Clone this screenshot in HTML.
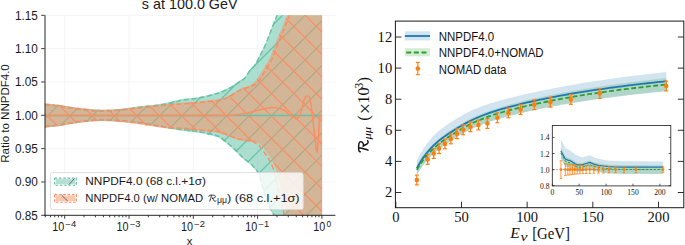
<!DOCTYPE html><html><head><meta charset="utf-8"><style>html,body{margin:0;padding:0;background:#fff;width:685px;height:245px;overflow:hidden}svg{display:block}</style></head><body><svg width="685" height="245" viewBox="0 0 685 245">
<defs>
<clipPath id="axL"><rect x="44.7" y="15.3" width="290.7" height="200.0"/></clipPath>
<clipPath id="clipG"><path d="M44.70,103.30 C47.25,103.60 54.12,104.30 60.00,105.10 C65.88,105.90 73.33,107.33 80.00,108.10 C86.67,108.87 93.33,109.57 100.00,109.70 C106.67,109.83 113.33,109.50 120.00,108.90 C126.67,108.30 134.72,106.77 140.00,106.10 C145.28,105.43 147.80,105.38 151.70,104.90 C155.60,104.42 159.52,103.88 163.40,103.20 C167.28,102.52 171.70,101.55 175.00,100.80 C178.30,100.05 180.27,99.18 183.20,98.70 C186.13,98.22 189.10,98.37 192.60,97.90 C196.10,97.43 200.32,96.77 204.20,95.90 C208.08,95.03 213.27,93.43 215.90,92.70 C218.53,91.97 217.65,92.45 220.00,91.50 C222.35,90.55 226.67,88.83 230.00,87.00 C233.33,85.17 237.50,82.22 240.00,80.50 C242.50,78.78 243.33,78.55 245.00,76.70 C246.67,74.85 248.33,71.52 250.00,69.40 C251.67,67.28 253.33,66.48 255.00,64.00 C256.67,61.52 258.33,57.75 260.00,54.50 C261.67,51.25 263.33,48.25 265.00,44.50 C266.67,40.75 268.08,36.87 270.00,32.00 C271.92,27.13 275.00,19.30 276.50,15.30 C278.00,11.30 277.92,10.22 279.00,8.00 C280.08,5.78 282.33,3.00 283.00,2.00 L321.9,-3.00 L321.9,237.00 L279.00,232.00 L279.00,232.00 C278.50,230.67 276.92,226.78 276.00,224.00 C275.08,221.22 274.50,217.80 273.50,215.30 C272.50,212.80 271.25,211.72 270.00,209.00 C268.75,206.28 267.33,202.83 266.00,199.00 C264.67,195.17 263.23,190.08 262.00,186.00 C260.77,181.92 259.97,177.47 258.60,174.50 C257.23,171.53 255.32,169.98 253.80,168.20 C252.28,166.42 251.18,165.25 249.50,163.80 C247.82,162.35 245.62,161.18 243.70,159.50 C241.78,157.82 240.45,156.03 238.00,153.70 C235.55,151.37 232.00,148.05 229.00,145.50 C226.00,142.95 222.18,139.87 220.00,138.40 C217.82,136.93 218.53,137.47 215.90,136.70 C213.27,135.93 208.08,134.58 204.20,133.80 C200.32,133.02 197.47,132.68 192.60,132.00 C187.73,131.32 183.77,131.07 175.00,129.70 C166.23,128.33 149.17,125.10 140.00,123.80 C130.83,122.50 126.67,122.35 120.00,121.90 C113.33,121.45 106.67,120.95 100.00,121.10 C93.33,121.25 86.67,121.98 80.00,122.80 C73.33,123.62 65.88,125.17 60.00,126.00 C54.12,126.83 47.25,127.50 44.70,127.80 Z"/></clipPath>
<clipPath id="clipO"><path d="M44.70,103.30 C47.25,103.60 54.12,104.30 60.00,105.10 C65.88,105.90 73.33,107.33 80.00,108.10 C86.67,108.87 93.33,109.57 100.00,109.70 C106.67,109.83 113.33,109.40 120.00,108.90 C126.67,108.40 132.77,107.45 140.00,106.70 C147.23,105.95 157.57,104.98 163.40,104.40 C169.23,103.82 170.13,103.60 175.00,103.20 C179.87,102.80 187.73,102.40 192.60,102.00 C197.47,101.60 199.63,101.28 204.20,100.80 C208.77,100.32 215.70,100.07 220.00,99.10 C224.30,98.13 226.67,96.68 230.00,95.00 C233.33,93.32 236.67,90.62 240.00,89.00 C243.33,87.38 247.50,86.53 250.00,85.30 C252.50,84.07 253.33,83.43 255.00,81.60 C256.67,79.77 258.33,76.82 260.00,74.30 C261.67,71.78 263.33,69.30 265.00,66.50 C266.67,63.70 268.67,60.25 270.00,57.50 C271.33,54.75 271.88,52.92 273.00,50.00 C274.12,47.08 275.37,43.33 276.70,40.00 C278.03,36.67 279.62,33.33 281.00,30.00 C282.38,26.67 284.00,22.45 285.00,20.00 C286.00,17.55 286.33,17.30 287.00,15.30 C287.67,13.30 288.33,10.22 289.00,8.00 C289.67,5.78 290.67,3.00 291.00,2.00 L321.9,-3.00 L321.9,237.00 L291.00,232.00 L291.00,232.00 C290.67,230.67 289.67,226.78 289.00,224.00 C288.33,221.22 288.17,220.13 287.00,215.30 C285.83,210.47 283.57,201.72 282.00,195.00 C280.43,188.28 278.65,179.40 277.60,175.00 C276.55,170.60 276.32,170.43 275.70,168.60 C275.08,166.77 274.52,165.38 273.90,164.00 C273.28,162.62 272.77,161.68 272.00,160.30 C271.23,158.92 270.22,157.08 269.30,155.70 C268.38,154.32 267.42,153.22 266.50,152.00 C265.58,150.78 264.72,149.62 263.80,148.40 C262.88,147.18 262.08,145.62 261.00,144.70 C259.92,143.78 258.52,143.32 257.30,142.90 C256.08,142.48 255.17,142.38 253.70,142.20 C252.23,142.02 251.40,142.27 248.50,141.80 C245.60,141.33 241.05,140.83 236.30,139.40 C231.55,137.97 224.38,134.43 220.00,133.20 C215.62,131.97 213.60,132.40 210.00,132.00 C206.40,131.60 202.28,131.18 198.40,130.80 C194.52,130.42 190.60,129.98 186.70,129.70 C182.80,129.42 178.88,129.40 175.00,129.10 C171.12,128.80 167.28,128.38 163.40,127.90 C159.52,127.42 155.60,126.78 151.70,126.20 C147.80,125.62 145.28,125.12 140.00,124.40 C134.72,123.68 126.67,122.45 120.00,121.90 C113.33,121.35 106.67,120.95 100.00,121.10 C93.33,121.25 86.67,121.98 80.00,122.80 C73.33,123.62 65.88,125.17 60.00,126.00 C54.12,126.83 47.25,127.50 44.70,127.80 Z"/></clipPath>
</defs>
<rect width="685" height="245" fill="#ffffff"/>
<g stroke="#f1f1f1" stroke-width="0.8"><line x1="64.70" y1="15.3" x2="64.70" y2="215.3"/><line x1="129.00" y1="15.3" x2="129.00" y2="215.3"/><line x1="193.30" y1="15.3" x2="193.30" y2="215.3"/><line x1="257.60" y1="15.3" x2="257.60" y2="215.3"/><line x1="321.90" y1="15.3" x2="321.90" y2="215.3"/><line x1="44.7" y1="15.30" x2="335.4" y2="15.30"/><line x1="44.7" y1="48.63" x2="335.4" y2="48.63"/><line x1="44.7" y1="81.97" x2="335.4" y2="81.97"/><line x1="44.7" y1="115.30" x2="335.4" y2="115.30"/><line x1="44.7" y1="148.63" x2="335.4" y2="148.63"/><line x1="44.7" y1="181.97" x2="335.4" y2="181.97"/></g>
<g clip-path="url(#axL)">
<path d="M44.70,103.30 C47.25,103.60 54.12,104.30 60.00,105.10 C65.88,105.90 73.33,107.33 80.00,108.10 C86.67,108.87 93.33,109.57 100.00,109.70 C106.67,109.83 113.33,109.50 120.00,108.90 C126.67,108.30 134.72,106.77 140.00,106.10 C145.28,105.43 147.80,105.38 151.70,104.90 C155.60,104.42 159.52,103.88 163.40,103.20 C167.28,102.52 171.70,101.55 175.00,100.80 C178.30,100.05 180.27,99.18 183.20,98.70 C186.13,98.22 189.10,98.37 192.60,97.90 C196.10,97.43 200.32,96.77 204.20,95.90 C208.08,95.03 213.27,93.43 215.90,92.70 C218.53,91.97 217.65,92.45 220.00,91.50 C222.35,90.55 226.67,88.83 230.00,87.00 C233.33,85.17 237.50,82.22 240.00,80.50 C242.50,78.78 243.33,78.55 245.00,76.70 C246.67,74.85 248.33,71.52 250.00,69.40 C251.67,67.28 253.33,66.48 255.00,64.00 C256.67,61.52 258.33,57.75 260.00,54.50 C261.67,51.25 263.33,48.25 265.00,44.50 C266.67,40.75 268.08,36.87 270.00,32.00 C271.92,27.13 275.00,19.30 276.50,15.30 C278.00,11.30 277.92,10.22 279.00,8.00 C280.08,5.78 282.33,3.00 283.00,2.00 L321.9,-3.00 L321.9,237.00 L279.00,232.00 L279.00,232.00 C278.50,230.67 276.92,226.78 276.00,224.00 C275.08,221.22 274.50,217.80 273.50,215.30 C272.50,212.80 271.25,211.72 270.00,209.00 C268.75,206.28 267.33,202.83 266.00,199.00 C264.67,195.17 263.23,190.08 262.00,186.00 C260.77,181.92 259.97,177.47 258.60,174.50 C257.23,171.53 255.32,169.98 253.80,168.20 C252.28,166.42 251.18,165.25 249.50,163.80 C247.82,162.35 245.62,161.18 243.70,159.50 C241.78,157.82 240.45,156.03 238.00,153.70 C235.55,151.37 232.00,148.05 229.00,145.50 C226.00,142.95 222.18,139.87 220.00,138.40 C217.82,136.93 218.53,137.47 215.90,136.70 C213.27,135.93 208.08,134.58 204.20,133.80 C200.32,133.02 197.47,132.68 192.60,132.00 C187.73,131.32 183.77,131.07 175.00,129.70 C166.23,128.33 149.17,125.10 140.00,123.80 C130.83,122.50 126.67,122.35 120.00,121.90 C113.33,121.45 106.67,120.95 100.00,121.10 C93.33,121.25 86.67,121.98 80.00,122.80 C73.33,123.62 65.88,125.17 60.00,126.00 C54.12,126.83 47.25,127.50 44.70,127.80 Z" fill="#66c2a5" fill-opacity="0.55"/>
<g clip-path="url(#clipG)" stroke="#66c2a5" stroke-width="1.2"><line x1="-83.00" y1="0" x2="-333.00" y2="250"/><line x1="-60.60" y1="0" x2="-310.60" y2="250"/><line x1="-38.20" y1="0" x2="-288.20" y2="250"/><line x1="-15.80" y1="0" x2="-265.80" y2="250"/><line x1="6.60" y1="0" x2="-243.40" y2="250"/><line x1="29.00" y1="0" x2="-221.00" y2="250"/><line x1="51.40" y1="0" x2="-198.60" y2="250"/><line x1="73.80" y1="0" x2="-176.20" y2="250"/><line x1="96.20" y1="0" x2="-153.80" y2="250"/><line x1="118.60" y1="0" x2="-131.40" y2="250"/><line x1="141.00" y1="0" x2="-109.00" y2="250"/><line x1="163.40" y1="0" x2="-86.60" y2="250"/><line x1="185.80" y1="0" x2="-64.20" y2="250"/><line x1="208.20" y1="0" x2="-41.80" y2="250"/><line x1="230.60" y1="0" x2="-19.40" y2="250"/><line x1="253.00" y1="0" x2="3.00" y2="250"/><line x1="275.40" y1="0" x2="25.40" y2="250"/><line x1="297.80" y1="0" x2="47.80" y2="250"/><line x1="320.20" y1="0" x2="70.20" y2="250"/><line x1="342.60" y1="0" x2="92.60" y2="250"/><line x1="365.00" y1="0" x2="115.00" y2="250"/><line x1="387.40" y1="0" x2="137.40" y2="250"/><line x1="409.80" y1="0" x2="159.80" y2="250"/><line x1="432.20" y1="0" x2="182.20" y2="250"/><line x1="454.60" y1="0" x2="204.60" y2="250"/><line x1="477.00" y1="0" x2="227.00" y2="250"/><line x1="499.40" y1="0" x2="249.40" y2="250"/><line x1="521.80" y1="0" x2="271.80" y2="250"/><line x1="544.20" y1="0" x2="294.20" y2="250"/><line x1="566.60" y1="0" x2="316.60" y2="250"/><line x1="589.00" y1="0" x2="339.00" y2="250"/><line x1="611.40" y1="0" x2="361.40" y2="250"/><line x1="633.80" y1="0" x2="383.80" y2="250"/><line x1="656.20" y1="0" x2="406.20" y2="250"/><line x1="678.60" y1="0" x2="428.60" y2="250"/><line x1="701.00" y1="0" x2="451.00" y2="250"/><line x1="723.40" y1="0" x2="473.40" y2="250"/><line x1="745.80" y1="0" x2="495.80" y2="250"/><line x1="768.20" y1="0" x2="518.20" y2="250"/><line x1="790.60" y1="0" x2="540.60" y2="250"/><line x1="813.00" y1="0" x2="563.00" y2="250"/><line x1="835.40" y1="0" x2="585.40" y2="250"/><line x1="857.80" y1="0" x2="607.80" y2="250"/><line x1="880.20" y1="0" x2="630.20" y2="250"/><line x1="902.60" y1="0" x2="652.60" y2="250"/><line x1="925.00" y1="0" x2="675.00" y2="250"/><line x1="947.40" y1="0" x2="697.40" y2="250"/><line x1="969.80" y1="0" x2="719.80" y2="250"/><line x1="992.20" y1="0" x2="742.20" y2="250"/><line x1="1014.60" y1="0" x2="764.60" y2="250"/></g>
<path d="M44.70,103.30 C47.25,103.60 54.12,104.30 60.00,105.10 C65.88,105.90 73.33,107.33 80.00,108.10 C86.67,108.87 93.33,109.57 100.00,109.70 C106.67,109.83 113.33,109.40 120.00,108.90 C126.67,108.40 132.77,107.45 140.00,106.70 C147.23,105.95 157.57,104.98 163.40,104.40 C169.23,103.82 170.13,103.60 175.00,103.20 C179.87,102.80 187.73,102.40 192.60,102.00 C197.47,101.60 199.63,101.28 204.20,100.80 C208.77,100.32 215.70,100.07 220.00,99.10 C224.30,98.13 226.67,96.68 230.00,95.00 C233.33,93.32 236.67,90.62 240.00,89.00 C243.33,87.38 247.50,86.53 250.00,85.30 C252.50,84.07 253.33,83.43 255.00,81.60 C256.67,79.77 258.33,76.82 260.00,74.30 C261.67,71.78 263.33,69.30 265.00,66.50 C266.67,63.70 268.67,60.25 270.00,57.50 C271.33,54.75 271.88,52.92 273.00,50.00 C274.12,47.08 275.37,43.33 276.70,40.00 C278.03,36.67 279.62,33.33 281.00,30.00 C282.38,26.67 284.00,22.45 285.00,20.00 C286.00,17.55 286.33,17.30 287.00,15.30 C287.67,13.30 288.33,10.22 289.00,8.00 C289.67,5.78 290.67,3.00 291.00,2.00 L321.9,-3.00 L321.9,237.00 L291.00,232.00 L291.00,232.00 C290.67,230.67 289.67,226.78 289.00,224.00 C288.33,221.22 288.17,220.13 287.00,215.30 C285.83,210.47 283.57,201.72 282.00,195.00 C280.43,188.28 278.65,179.40 277.60,175.00 C276.55,170.60 276.32,170.43 275.70,168.60 C275.08,166.77 274.52,165.38 273.90,164.00 C273.28,162.62 272.77,161.68 272.00,160.30 C271.23,158.92 270.22,157.08 269.30,155.70 C268.38,154.32 267.42,153.22 266.50,152.00 C265.58,150.78 264.72,149.62 263.80,148.40 C262.88,147.18 262.08,145.62 261.00,144.70 C259.92,143.78 258.52,143.32 257.30,142.90 C256.08,142.48 255.17,142.38 253.70,142.20 C252.23,142.02 251.40,142.27 248.50,141.80 C245.60,141.33 241.05,140.83 236.30,139.40 C231.55,137.97 224.38,134.43 220.00,133.20 C215.62,131.97 213.60,132.40 210.00,132.00 C206.40,131.60 202.28,131.18 198.40,130.80 C194.52,130.42 190.60,129.98 186.70,129.70 C182.80,129.42 178.88,129.40 175.00,129.10 C171.12,128.80 167.28,128.38 163.40,127.90 C159.52,127.42 155.60,126.78 151.70,126.20 C147.80,125.62 145.28,125.12 140.00,124.40 C134.72,123.68 126.67,122.45 120.00,121.90 C113.33,121.35 106.67,120.95 100.00,121.10 C93.33,121.25 86.67,121.98 80.00,122.80 C73.33,123.62 65.88,125.17 60.00,126.00 C54.12,126.83 47.25,127.50 44.70,127.80 Z" fill="#fc8d62" fill-opacity="0.5"/>
<g clip-path="url(#clipO)" stroke="#fc8d62" stroke-width="1.2"><line x1="-225.30" y1="0" x2="24.70" y2="250"/><line x1="-202.90" y1="0" x2="47.10" y2="250"/><line x1="-180.50" y1="0" x2="69.50" y2="250"/><line x1="-158.10" y1="0" x2="91.90" y2="250"/><line x1="-135.70" y1="0" x2="114.30" y2="250"/><line x1="-113.30" y1="0" x2="136.70" y2="250"/><line x1="-90.90" y1="0" x2="159.10" y2="250"/><line x1="-68.50" y1="0" x2="181.50" y2="250"/><line x1="-46.10" y1="0" x2="203.90" y2="250"/><line x1="-23.70" y1="0" x2="226.30" y2="250"/><line x1="-1.30" y1="0" x2="248.70" y2="250"/><line x1="21.10" y1="0" x2="271.10" y2="250"/><line x1="43.50" y1="0" x2="293.50" y2="250"/><line x1="65.90" y1="0" x2="315.90" y2="250"/><line x1="88.30" y1="0" x2="338.30" y2="250"/><line x1="110.70" y1="0" x2="360.70" y2="250"/><line x1="133.10" y1="0" x2="383.10" y2="250"/><line x1="155.50" y1="0" x2="405.50" y2="250"/><line x1="177.90" y1="0" x2="427.90" y2="250"/><line x1="200.30" y1="0" x2="450.30" y2="250"/><line x1="222.70" y1="0" x2="472.70" y2="250"/><line x1="245.10" y1="0" x2="495.10" y2="250"/><line x1="267.50" y1="0" x2="517.50" y2="250"/><line x1="289.90" y1="0" x2="539.90" y2="250"/><line x1="312.30" y1="0" x2="562.30" y2="250"/><line x1="334.70" y1="0" x2="584.70" y2="250"/><line x1="357.10" y1="0" x2="607.10" y2="250"/><line x1="379.50" y1="0" x2="629.50" y2="250"/><line x1="401.90" y1="0" x2="651.90" y2="250"/><line x1="424.30" y1="0" x2="674.30" y2="250"/><line x1="446.70" y1="0" x2="696.70" y2="250"/><line x1="469.10" y1="0" x2="719.10" y2="250"/><line x1="491.50" y1="0" x2="741.50" y2="250"/><line x1="513.90" y1="0" x2="763.90" y2="250"/><line x1="536.30" y1="0" x2="786.30" y2="250"/><line x1="558.70" y1="0" x2="808.70" y2="250"/><line x1="581.10" y1="0" x2="831.10" y2="250"/><line x1="603.50" y1="0" x2="853.50" y2="250"/><line x1="625.90" y1="0" x2="875.90" y2="250"/><line x1="648.30" y1="0" x2="898.30" y2="250"/><line x1="670.70" y1="0" x2="920.70" y2="250"/><line x1="693.10" y1="0" x2="943.10" y2="250"/><line x1="715.50" y1="0" x2="965.50" y2="250"/><line x1="737.90" y1="0" x2="987.90" y2="250"/><line x1="760.30" y1="0" x2="1010.30" y2="250"/><line x1="782.70" y1="0" x2="1032.70" y2="250"/><line x1="805.10" y1="0" x2="1055.10" y2="250"/><line x1="827.50" y1="0" x2="1077.50" y2="250"/><line x1="849.90" y1="0" x2="1099.90" y2="250"/><line x1="872.30" y1="0" x2="1122.30" y2="250"/></g>
<path d="M44.70,104.50 C47.25,104.80 54.12,105.50 60.00,106.30 C65.88,107.10 73.33,108.53 80.00,109.30 C86.67,110.07 93.33,110.77 100.00,110.90 C106.67,111.03 113.33,110.70 120.00,110.10 C126.67,109.50 134.72,107.97 140.00,107.30 C145.28,106.63 147.80,106.58 151.70,106.10 C155.60,105.62 159.52,105.08 163.40,104.40 C167.28,103.72 171.70,102.75 175.00,102.00 C178.30,101.25 180.27,100.38 183.20,99.90 C186.13,99.42 189.10,99.57 192.60,99.10 C196.10,98.63 200.32,97.97 204.20,97.10 C208.08,96.23 213.27,94.63 215.90,93.90 C218.53,93.17 217.65,93.65 220.00,92.70 C222.35,91.75 226.67,90.03 230.00,88.20 C233.33,86.37 237.50,83.42 240.00,81.70 C242.50,79.98 243.33,79.75 245.00,77.90 C246.67,76.05 248.33,72.72 250.00,70.60 C251.67,68.48 253.33,67.68 255.00,65.20 C256.67,62.72 258.33,58.95 260.00,55.70 C261.67,52.45 263.33,49.45 265.00,45.70 C266.67,41.95 268.08,38.07 270.00,33.20 C271.92,28.33 275.00,20.50 276.50,16.50 C278.00,12.50 277.92,11.42 279.00,9.20 C280.08,6.98 282.33,4.20 283.00,3.20" fill="none" stroke="#66c2a5" stroke-width="1.5" stroke-dasharray="5.2 2.6"/>
<path d="M44.70,126.60 C47.25,126.30 54.12,125.63 60.00,124.80 C65.88,123.97 73.33,122.42 80.00,121.60 C86.67,120.78 93.33,120.05 100.00,119.90 C106.67,119.75 113.33,120.25 120.00,120.70 C126.67,121.15 130.83,121.30 140.00,122.60 C149.17,123.90 166.23,127.13 175.00,128.50 C183.77,129.87 187.73,130.12 192.60,130.80 C197.47,131.48 200.32,131.82 204.20,132.60 C208.08,133.38 213.27,134.73 215.90,135.50 C218.53,136.27 217.82,135.73 220.00,137.20 C222.18,138.67 226.00,141.75 229.00,144.30 C232.00,146.85 235.55,150.17 238.00,152.50 C240.45,154.83 241.78,156.62 243.70,158.30 C245.62,159.98 247.82,161.15 249.50,162.60 C251.18,164.05 252.28,165.22 253.80,167.00 C255.32,168.78 257.23,170.33 258.60,173.30 C259.97,176.27 260.77,180.72 262.00,184.80 C263.23,188.88 264.67,193.97 266.00,197.80 C267.33,201.63 268.75,205.08 270.00,207.80 C271.25,210.52 272.50,211.60 273.50,214.10 C274.50,216.60 275.08,220.02 276.00,222.80 C276.92,225.58 278.50,229.47 279.00,230.80" fill="none" stroke="#66c2a5" stroke-width="1.5" stroke-dasharray="5.2 2.6"/>
<path d="M44.70,104.50 C47.25,104.80 54.12,105.50 60.00,106.30 C65.88,107.10 73.33,108.53 80.00,109.30 C86.67,110.07 93.33,110.77 100.00,110.90 C106.67,111.03 113.33,110.60 120.00,110.10 C126.67,109.60 132.77,108.65 140.00,107.90 C147.23,107.15 157.57,106.18 163.40,105.60 C169.23,105.02 170.13,104.80 175.00,104.40 C179.87,104.00 187.73,103.60 192.60,103.20 C197.47,102.80 199.63,102.48 204.20,102.00 C208.77,101.52 215.70,101.27 220.00,100.30 C224.30,99.33 226.67,97.88 230.00,96.20 C233.33,94.52 236.67,91.82 240.00,90.20 C243.33,88.58 247.13,87.73 250.00,86.50 C252.87,85.27 255.17,84.63 257.20,82.80 C259.23,80.97 260.53,78.02 262.20,75.50 C263.87,72.98 265.53,70.50 267.20,67.70 C268.87,64.90 270.87,61.45 272.20,58.70 C273.53,55.95 274.08,54.12 275.20,51.20 C276.32,48.28 277.57,44.53 278.90,41.20 C280.23,37.87 281.82,34.53 283.20,31.20 C284.58,27.87 286.20,23.65 287.20,21.20 C288.20,18.75 288.53,18.50 289.20,16.50 C289.87,14.50 290.53,11.42 291.20,9.20 C291.87,6.98 292.87,4.20 293.20,3.20" fill="none" stroke="#fc8d62" stroke-width="1.5" stroke-dasharray="5.2 2.6"/>
<path d="M44.70,126.60 C47.25,126.30 54.12,125.63 60.00,124.80 C65.88,123.97 73.33,122.42 80.00,121.60 C86.67,120.78 93.33,120.05 100.00,119.90 C106.67,119.75 113.33,120.15 120.00,120.70 C126.67,121.25 134.72,122.48 140.00,123.20 C145.28,123.92 147.80,124.42 151.70,125.00 C155.60,125.58 159.52,126.22 163.40,126.70 C167.28,127.18 171.12,127.60 175.00,127.90 C178.88,128.20 182.80,128.22 186.70,128.50 C190.60,128.78 194.52,129.22 198.40,129.60 C202.28,129.98 206.40,130.40 210.00,130.80 C213.60,131.20 215.62,130.77 220.00,132.00 C224.38,133.23 231.55,136.77 236.30,138.20 C241.05,139.63 245.60,140.13 248.50,140.60 C251.40,141.07 252.65,140.62 253.70,141.00 C254.75,141.38 254.00,142.28 254.80,142.90 C255.60,143.52 257.42,143.78 258.50,144.70 C259.58,145.62 260.38,147.18 261.30,148.40 C262.22,149.62 263.08,150.78 264.00,152.00 C264.92,153.22 265.88,154.32 266.80,155.70 C267.72,157.08 268.73,158.92 269.50,160.30 C270.27,161.68 270.78,162.62 271.40,164.00 C272.02,165.38 272.58,166.77 273.20,168.60 C273.82,170.43 274.05,170.60 275.10,175.00 C276.15,179.40 277.93,188.28 279.50,195.00 C281.07,201.72 283.33,210.47 284.50,215.30 C285.67,220.13 285.83,221.22 286.50,224.00 C287.17,226.78 288.17,230.67 288.50,232.00" fill="none" stroke="#fc8d62" stroke-width="1.5" stroke-dasharray="5.2 2.6"/>
<rect x="320.6" y="15.3" width="1.6" height="200.0" fill="#fc8d62" fill-opacity="0.35"/>
<line x1="44.7" y1="115.4" x2="321.9" y2="115.4" stroke="#66c2a5" stroke-width="1.5"/>
<path d="M44.70,115.50 C57.25,115.50 91.62,115.48 120.00,115.50 C148.38,115.52 197.33,115.60 215.00,115.60 C232.67,115.60 222.33,115.63 226.00,115.50 C229.67,115.37 233.32,115.23 237.00,114.80 C240.68,114.37 244.42,113.72 248.10,112.90 C251.78,112.08 255.43,110.77 259.10,109.90 C262.77,109.03 267.35,108.07 270.10,107.70 C272.85,107.33 273.75,107.48 275.60,107.70 C277.45,107.92 279.63,108.50 281.20,109.00 C282.77,109.50 283.88,109.93 285.00,110.70 C286.12,111.47 286.47,112.50 287.90,113.60 C289.33,114.70 292.18,116.45 293.60,117.30 C295.02,118.15 295.45,118.85 296.40,118.70 C297.35,118.55 298.35,118.20 299.30,116.40 C300.25,114.60 301.15,110.98 302.10,107.90 C303.05,104.82 304.03,99.90 305.00,97.90 C305.97,95.90 307.05,95.67 307.90,95.90 C308.75,96.13 309.40,96.35 310.10,99.30 C310.80,102.25 311.43,108.37 312.10,113.60 C312.77,118.83 313.47,125.23 314.10,130.70 C314.73,136.17 315.42,142.83 315.90,146.40 C316.38,149.97 316.63,152.82 317.00,152.10 C317.37,151.38 317.72,147.10 318.10,142.10 C318.48,137.10 318.97,126.38 319.30,122.10 C319.63,117.82 319.67,117.53 320.10,116.40 C320.53,115.27 321.60,115.48 321.90,115.30" fill="none" stroke="#fc8d62" stroke-width="1.5"/>
</g>
<line x1="45.0" y1="15.3" x2="45.0" y2="215.8" stroke="#262626" stroke-width="1"/>
<line x1="44.2" y1="215.3" x2="335.4" y2="215.3" stroke="#262626" stroke-width="1"/>
<g stroke="#262626" stroke-width="0.9"><line x1="41.2" y1="15.30" x2="44.7" y2="15.30"/><line x1="41.2" y1="48.63" x2="44.7" y2="48.63"/><line x1="41.2" y1="81.97" x2="44.7" y2="81.97"/><line x1="41.2" y1="115.30" x2="44.7" y2="115.30"/><line x1="41.2" y1="148.63" x2="44.7" y2="148.63"/><line x1="41.2" y1="181.97" x2="44.7" y2="181.97"/><line x1="41.2" y1="215.30" x2="44.7" y2="215.30"/><line x1="45.34" y1="215.3" x2="45.34" y2="217.3"/><line x1="50.44" y1="215.3" x2="50.44" y2="217.3"/><line x1="54.74" y1="215.3" x2="54.74" y2="217.3"/><line x1="58.47" y1="215.3" x2="58.47" y2="217.3"/><line x1="61.76" y1="215.3" x2="61.76" y2="217.3"/><line x1="64.70" y1="215.3" x2="64.70" y2="218.8"/><line x1="84.06" y1="215.3" x2="84.06" y2="217.3"/><line x1="95.38" y1="215.3" x2="95.38" y2="217.3"/><line x1="103.41" y1="215.3" x2="103.41" y2="217.3"/><line x1="109.64" y1="215.3" x2="109.64" y2="217.3"/><line x1="114.74" y1="215.3" x2="114.74" y2="217.3"/><line x1="119.04" y1="215.3" x2="119.04" y2="217.3"/><line x1="122.77" y1="215.3" x2="122.77" y2="217.3"/><line x1="126.06" y1="215.3" x2="126.06" y2="217.3"/><line x1="129.00" y1="215.3" x2="129.00" y2="218.8"/><line x1="148.36" y1="215.3" x2="148.36" y2="217.3"/><line x1="159.68" y1="215.3" x2="159.68" y2="217.3"/><line x1="167.71" y1="215.3" x2="167.71" y2="217.3"/><line x1="173.94" y1="215.3" x2="173.94" y2="217.3"/><line x1="179.04" y1="215.3" x2="179.04" y2="217.3"/><line x1="183.34" y1="215.3" x2="183.34" y2="217.3"/><line x1="187.07" y1="215.3" x2="187.07" y2="217.3"/><line x1="190.36" y1="215.3" x2="190.36" y2="217.3"/><line x1="193.30" y1="215.3" x2="193.30" y2="218.8"/><line x1="212.66" y1="215.3" x2="212.66" y2="217.3"/><line x1="223.98" y1="215.3" x2="223.98" y2="217.3"/><line x1="232.01" y1="215.3" x2="232.01" y2="217.3"/><line x1="238.24" y1="215.3" x2="238.24" y2="217.3"/><line x1="243.34" y1="215.3" x2="243.34" y2="217.3"/><line x1="247.64" y1="215.3" x2="247.64" y2="217.3"/><line x1="251.37" y1="215.3" x2="251.37" y2="217.3"/><line x1="254.66" y1="215.3" x2="254.66" y2="217.3"/><line x1="257.60" y1="215.3" x2="257.60" y2="218.8"/><line x1="276.96" y1="215.3" x2="276.96" y2="217.3"/><line x1="288.28" y1="215.3" x2="288.28" y2="217.3"/><line x1="296.31" y1="215.3" x2="296.31" y2="217.3"/><line x1="302.54" y1="215.3" x2="302.54" y2="217.3"/><line x1="307.64" y1="215.3" x2="307.64" y2="217.3"/><line x1="311.94" y1="215.3" x2="311.94" y2="217.3"/><line x1="315.67" y1="215.3" x2="315.67" y2="217.3"/><line x1="318.96" y1="215.3" x2="318.96" y2="217.3"/><line x1="321.90" y1="215.3" x2="321.90" y2="218.8"/></g>
<g font-family="'Liberation Sans', sans-serif" font-size="11.9" fill="#1a1a1a"><text x="37.8" y="19.60" text-anchor="end" textLength="22.9" lengthAdjust="spacingAndGlyphs">1.15</text><text x="37.8" y="52.93" text-anchor="end" textLength="22.9" lengthAdjust="spacingAndGlyphs">1.10</text><text x="37.8" y="86.27" text-anchor="end" textLength="22.9" lengthAdjust="spacingAndGlyphs">1.05</text><text x="37.8" y="119.60" text-anchor="end" textLength="22.9" lengthAdjust="spacingAndGlyphs">1.00</text><text x="37.8" y="152.93" text-anchor="end" textLength="22.9" lengthAdjust="spacingAndGlyphs">0.95</text><text x="37.8" y="186.27" text-anchor="end" textLength="22.9" lengthAdjust="spacingAndGlyphs">0.90</text><text x="37.8" y="219.60" text-anchor="end" textLength="22.9" lengthAdjust="spacingAndGlyphs">0.85</text></g>
<g font-family="'Liberation Sans', sans-serif" font-size="11.9" fill="#1a1a1a"><text x="52.30" y="230.6" textLength="12" lengthAdjust="spacingAndGlyphs">10</text><text x="65.60" y="226.6" font-size="8.4" textLength="10.7" lengthAdjust="spacingAndGlyphs">−4</text><text x="116.60" y="230.6" textLength="12" lengthAdjust="spacingAndGlyphs">10</text><text x="129.90" y="226.6" font-size="8.4" textLength="10.7" lengthAdjust="spacingAndGlyphs">−3</text><text x="180.90" y="230.6" textLength="12" lengthAdjust="spacingAndGlyphs">10</text><text x="194.20" y="226.6" font-size="8.4" textLength="10.7" lengthAdjust="spacingAndGlyphs">−2</text><text x="245.20" y="230.6" textLength="12" lengthAdjust="spacingAndGlyphs">10</text><text x="258.50" y="226.6" font-size="8.4" textLength="10.7" lengthAdjust="spacingAndGlyphs">−1</text><text x="313.30" y="230.6" textLength="12" lengthAdjust="spacingAndGlyphs">10</text><text x="326.60" y="226.6" font-size="8.4">0</text></g>
<text x="189.6" y="244.7" text-anchor="middle" font-family="'Liberation Sans', sans-serif" font-size="11.4" fill="#1a1a1a">x</text>
<text transform="translate(8.6,113.5) rotate(-90)" text-anchor="middle" font-family="'Liberation Sans', sans-serif" font-size="11.5" fill="#1a1a1a" textLength="98.5" lengthAdjust="spacingAndGlyphs">Ratio to NNPDF4.0</text>
<text x="189.7" y="9.2" text-anchor="middle" font-family="'Liberation Sans', sans-serif" font-size="13.9" fill="#1a1a1a" textLength="95.8" lengthAdjust="spacingAndGlyphs">s at 100.0 GeV</text>
<rect x="50.5" y="172.6" width="252.8" height="37" rx="2.2" fill="#ffffff" fill-opacity="0.8" stroke="#d6d6d6" stroke-width="0.8"/>
<rect x="54.6" y="178.1" width="21.8" height="7.2" fill="#ffffff" stroke="#ffffff" stroke-width="1.3"/>
<rect x="55.6" y="179.1" width="19.8" height="5.2" fill="#66c2a5" fill-opacity="0.5"/>
<rect x="54.6" y="178.1" width="21.8" height="7.2" fill="none" stroke="#66c2a5" stroke-width="1.1" stroke-dasharray="2.6 1.7"/>
<line x1="68.8" y1="184.8" x2="74.6" y2="178.4" stroke="#666" stroke-width="1"/>
<rect x="54.6" y="194.6" width="21.8" height="7.6" fill="#ffffff" stroke="#ffffff" stroke-width="1.3"/>
<rect x="55.6" y="195.6" width="19.8" height="5.6" fill="#fc8d62" fill-opacity="0.5"/>
<rect x="54.6" y="194.6" width="21.8" height="7.6" fill="none" stroke="#fc8d62" stroke-width="1.1" stroke-dasharray="2.6 1.7"/>
<line x1="61.6" y1="195.2" x2="67.8" y2="201.2" stroke="#666" stroke-width="1"/>
<g font-family="'Liberation Sans', sans-serif" font-size="11.8" fill="#1a1a1a"><text x="85.3" y="184.8" textLength="120.7" lengthAdjust="spacingAndGlyphs">NNPDF4.0 (68 c.l.+1σ)</text><text x="85.3" y="201.8" textLength="117.8" lengthAdjust="spacingAndGlyphs">NNPDF4.0 (w/ NOMAD</text><text x="217.0" y="202.9" font-size="9.2" textLength="10.0" lengthAdjust="spacingAndGlyphs">μμ</text><text x="227.0" y="201.8" textLength="72.6" lengthAdjust="spacingAndGlyphs">) (68 c.l.+1σ)</text></g>
<path transform="translate(208.7,202.0) scale(0.66,0.64)" d="M0,-9.0 C-0.2,-10.2 1.8,-10.8 4.1,-10.7 C6.3,-10.6 8.8,-10.8 9.8,-9.6 C10.6,-8.6 9.9,-6.6 7.9,-6.0 C6.9,-5.7 5.9,-5.9 5.5,-6.2 M5.8,-6.0 C6.8,-4.5 7.3,-2.6 8.5,-1.6 C9.3,-1.0 10.3,-1.0 11.1,-1.7 M4.1,-10.6 C3.5,-7 2.8,-3.5 1.7,-1.2" fill="none" stroke="#1a1a1a" stroke-width="1.35" stroke-linecap="round"/>
<path d="M416.84,160.47 L420.00,154.46 L423.16,149.21 L426.32,144.54 L429.48,140.46 L432.64,136.82 L435.79,133.52 L438.95,130.65 L442.11,128.17 L445.27,125.88 L448.43,123.76 L451.59,121.75 L454.75,119.69 L457.90,117.75 L461.06,115.91 L464.22,114.19 L467.38,112.56 L470.54,111.00 L473.70,109.51 L476.86,108.19 L480.01,106.97 L483.17,105.80 L486.33,104.69 L489.49,103.62 L492.65,102.64 L495.81,101.72 L498.97,100.84 L502.12,99.97 L505.28,99.11 L508.44,98.28 L511.60,97.48 L514.76,96.70 L517.92,95.92 L521.08,95.17 L524.23,94.44 L527.39,93.74 L530.55,93.05 L533.71,92.39 L536.87,91.74 L540.03,91.11 L543.19,90.46 L546.34,89.82 L549.50,89.17 L552.66,88.53 L555.82,87.90 L558.98,87.29 L562.14,86.69 L565.30,86.10 L568.45,85.53 L571.61,84.97 L574.77,84.42 L577.93,83.88 L581.09,83.35 L584.25,82.83 L587.41,82.32 L590.56,81.82 L593.72,81.33 L596.88,80.85 L600.04,80.38 L603.20,79.91 L606.36,79.45 L609.52,79.00 L612.67,78.56 L615.83,78.13 L618.99,77.70 L622.15,77.28 L625.31,76.87 L628.47,76.46 L631.63,76.06 L634.78,75.66 L637.94,75.27 L641.10,74.89 L644.26,74.51 L647.42,74.14 L650.58,73.77 L653.74,73.41 L656.89,73.05 L660.05,72.69 L663.21,72.34 L666.37,71.99 L666.37,91.29 L663.21,91.60 L660.05,91.93 L656.89,92.25 L653.74,92.57 L650.58,92.90 L647.42,93.23 L644.26,93.57 L641.10,93.92 L637.94,94.27 L634.78,94.62 L631.63,94.98 L628.47,95.35 L625.31,95.72 L622.15,96.10 L618.99,96.49 L615.83,96.88 L612.67,97.28 L609.52,97.69 L606.36,98.11 L603.20,98.53 L600.04,98.96 L596.88,99.40 L593.72,99.85 L590.56,100.31 L587.41,100.77 L584.25,101.25 L581.09,101.73 L577.93,102.23 L574.77,102.73 L571.61,103.25 L568.45,103.78 L565.30,104.31 L562.14,104.87 L558.98,105.43 L555.82,106.01 L552.66,106.60 L549.50,107.21 L546.34,107.82 L543.19,108.43 L540.03,109.05 L536.87,109.70 L533.71,110.35 L530.55,111.03 L527.39,111.73 L524.23,112.45 L521.08,113.19 L517.92,113.96 L514.76,114.74 L511.60,115.54 L508.44,116.35 L505.28,117.20 L502.12,118.07 L498.97,118.98 L495.81,119.92 L492.65,120.90 L489.49,121.94 L486.33,123.07 L483.17,124.25 L480.01,125.48 L476.86,126.76 L473.70,128.14 L470.54,129.69 L467.38,131.31 L464.22,133.01 L461.06,134.78 L457.90,136.60 L454.75,138.52 L451.59,140.56 L448.43,142.55 L445.27,144.65 L442.11,146.93 L438.95,149.39 L435.79,152.01 L432.64,154.78 L429.48,157.89 L426.32,161.38 L423.16,165.33 L420.00,169.87 L416.84,175.17 Z" fill="#1f77b4" fill-opacity="0.2"/>
<path d="M416.84,164.87 L420.00,159.53 L423.16,154.95 L426.32,150.96 L429.48,147.44 L432.64,144.29 L435.79,141.48 L438.95,138.82 L442.11,136.32 L445.27,134.01 L448.43,131.87 L451.59,129.84 L454.75,127.76 L457.90,125.80 L461.06,123.95 L464.22,122.14 L467.38,120.40 L470.54,118.75 L473.70,117.16 L476.86,115.74 L480.01,114.42 L483.17,113.15 L486.33,111.94 L489.49,110.77 L492.65,109.69 L495.81,108.67 L498.97,107.69 L502.12,106.75 L505.28,105.83 L508.44,104.95 L511.60,104.10 L514.76,103.27 L517.92,102.44 L521.08,101.64 L524.23,100.86 L527.39,100.10 L530.55,99.37 L533.71,98.65 L536.87,97.95 L540.03,97.27 L543.19,96.61 L546.34,95.97 L549.50,95.31 L552.66,94.67 L555.82,94.04 L558.98,93.42 L562.14,92.82 L565.30,92.23 L568.45,91.65 L571.61,91.09 L574.77,90.53 L577.93,89.99 L581.09,89.46 L584.25,88.93 L587.41,88.42 L590.56,87.92 L593.72,87.42 L596.88,86.94 L600.04,86.46 L603.20,85.99 L606.36,85.53 L609.52,85.08 L612.67,84.63 L615.83,84.19 L618.99,83.76 L622.15,83.34 L625.31,82.92 L628.47,82.51 L631.63,82.10 L634.78,81.70 L637.94,81.31 L641.10,80.92 L644.26,80.54 L647.42,80.16 L650.58,79.79 L653.74,79.42 L656.89,79.06 L660.05,78.70 L663.21,78.34 L666.37,77.99 L666.37,90.99 L663.21,91.30 L660.05,91.63 L656.89,91.95 L653.74,92.27 L650.58,92.60 L647.42,92.93 L644.26,93.27 L641.10,93.62 L637.94,93.97 L634.78,94.32 L631.63,94.68 L628.47,95.05 L625.31,95.42 L622.15,95.80 L618.99,96.19 L615.83,96.58 L612.67,96.98 L609.52,97.39 L606.36,97.81 L603.20,98.23 L600.04,98.66 L596.88,99.10 L593.72,99.55 L590.56,100.01 L587.41,100.47 L584.25,100.95 L581.09,101.43 L577.93,101.93 L574.77,102.43 L571.61,102.95 L568.45,103.48 L565.30,104.01 L562.14,104.57 L558.98,105.13 L555.82,105.71 L552.66,106.30 L549.50,106.91 L546.34,107.52 L543.19,108.13 L540.03,108.75 L536.87,109.40 L533.71,110.05 L530.55,110.73 L527.39,111.43 L524.23,112.15 L521.08,112.89 L517.92,113.66 L514.76,114.44 L511.60,115.24 L508.44,116.05 L505.28,116.90 L502.12,117.77 L498.97,118.68 L495.81,119.62 L492.65,120.60 L489.49,121.64 L486.33,122.77 L483.17,123.95 L480.01,125.18 L476.86,126.46 L473.70,127.84 L470.54,129.39 L467.38,131.01 L464.22,132.71 L461.06,134.48 L457.90,136.30 L454.75,138.22 L451.59,140.26 L448.43,142.25 L445.27,144.35 L442.11,146.63 L438.95,149.09 L435.79,151.71 L432.64,154.48 L429.48,157.59 L426.32,161.08 L423.16,165.03 L420.00,169.57 L416.84,174.87 Z" fill="#2ca02c" fill-opacity="0.2"/>
<path d="M416.84,168.27 L420.00,162.68 L423.16,157.85 L426.32,153.60 L429.48,149.83 L432.64,146.43 L435.79,143.36 L438.95,140.65 L442.11,138.17 L445.27,135.88 L448.43,133.76 L451.59,131.75 L454.75,129.69 L457.90,127.75 L461.06,125.91 L464.22,124.12 L467.38,122.41 L470.54,120.77 L473.70,119.20 L476.86,117.80 L480.01,116.50 L483.17,115.25 L486.33,114.06 L489.49,112.91 L492.65,111.85 L495.81,110.85 L498.97,109.89 L502.12,108.96 L505.28,108.06 L508.44,107.20 L511.60,106.37 L514.76,105.56 L517.92,104.75 L521.08,103.96 L524.23,103.20 L527.39,102.47 L530.55,101.75 L533.71,101.05 L536.87,100.37 L540.03,99.71 L543.19,99.07 L546.34,98.45 L549.50,97.81 L552.66,97.18 L555.82,96.57 L558.98,95.98 L562.14,95.39 L565.30,94.82 L568.45,94.26 L571.61,93.72 L574.77,93.18 L577.93,92.66 L581.09,92.14 L584.25,91.64 L587.41,91.15 L590.56,90.66 L593.72,90.19 L596.88,89.72 L600.04,89.26 L603.20,88.81 L606.36,88.37 L609.52,87.93 L612.67,87.51 L615.83,87.09 L618.99,86.68 L622.15,86.27 L625.31,85.87 L628.47,85.48 L631.63,85.09 L634.78,84.71 L637.94,84.34 L641.10,83.97 L644.26,83.61 L647.42,83.25 L650.58,82.90 L653.74,82.55 L656.89,82.21 L660.05,81.86 L663.21,81.52 L666.37,81.19" fill="none" stroke="#1f77b4" stroke-width="1.8"/>
<path d="M416.84,169.87 L420.00,164.55 L423.16,159.99 L426.32,156.02 L429.48,152.52 L432.64,149.39 L435.79,146.60 L438.95,143.95 L442.11,141.47 L445.27,139.18 L448.43,137.06 L451.59,135.05 L454.75,132.99 L457.90,131.05 L461.06,129.21 L464.22,127.42 L467.38,125.71 L470.54,124.07 L473.70,122.50 L476.86,121.10 L480.01,119.80 L483.17,118.55 L486.33,117.36 L489.49,116.21 L492.65,115.15 L495.81,114.15 L498.97,113.19 L502.12,112.26 L505.28,111.36 L508.44,110.50 L511.60,109.67 L514.76,108.86 L517.92,108.05 L521.08,107.26 L524.23,106.50 L527.39,105.77 L530.55,105.05 L533.71,104.35 L536.87,103.67 L540.03,103.01 L543.19,102.37 L546.34,101.75 L549.50,101.11 L552.66,100.48 L555.82,99.87 L558.98,99.28 L562.14,98.69 L565.30,98.12 L568.45,97.56 L571.61,97.02 L574.77,96.48 L577.93,95.96 L581.09,95.44 L584.25,94.94 L587.41,94.45 L590.56,93.96 L593.72,93.49 L596.88,93.02 L600.04,92.56 L603.20,92.11 L606.36,91.67 L609.52,91.23 L612.67,90.81 L615.83,90.39 L618.99,89.98 L622.15,89.57 L625.31,89.17 L628.47,88.78 L631.63,88.39 L634.78,88.01 L637.94,87.64 L641.10,87.27 L644.26,86.91 L647.42,86.55 L650.58,86.20 L653.74,85.85 L656.89,85.51 L660.05,85.16 L663.21,84.82 L666.37,84.49" fill="none" stroke="#2ca02c" stroke-width="1.8" stroke-dasharray="4.9 2.5"/>
<line x1="416.84" y1="175.10" x2="416.84" y2="184.90" stroke="#ff7f0e" stroke-width="1.2"/><line x1="414.84" y1="175.10" x2="418.84" y2="175.10" stroke="#ff7f0e" stroke-width="1.2"/><line x1="414.84" y1="184.90" x2="418.84" y2="184.90" stroke="#ff7f0e" stroke-width="1.2"/><circle cx="416.84" cy="180.00" r="2.3" fill="#ff7f0e"/><line x1="427.61" y1="154.49" x2="427.61" y2="164.29" stroke="#ff7f0e" stroke-width="1.2"/><line x1="425.61" y1="154.49" x2="429.61" y2="154.49" stroke="#ff7f0e" stroke-width="1.2"/><line x1="425.61" y1="164.29" x2="429.61" y2="164.29" stroke="#ff7f0e" stroke-width="1.2"/><circle cx="427.61" cy="159.39" r="2.3" fill="#ff7f0e"/><line x1="433.78" y1="148.60" x2="433.78" y2="158.40" stroke="#ff7f0e" stroke-width="1.2"/><line x1="431.78" y1="148.60" x2="435.78" y2="148.60" stroke="#ff7f0e" stroke-width="1.2"/><line x1="431.78" y1="158.40" x2="435.78" y2="158.40" stroke="#ff7f0e" stroke-width="1.2"/><circle cx="433.78" cy="153.50" r="2.3" fill="#ff7f0e"/><line x1="439.04" y1="143.70" x2="439.04" y2="153.50" stroke="#ff7f0e" stroke-width="1.2"/><line x1="437.04" y1="143.70" x2="441.04" y2="143.70" stroke="#ff7f0e" stroke-width="1.2"/><line x1="437.04" y1="153.50" x2="441.04" y2="153.50" stroke="#ff7f0e" stroke-width="1.2"/><circle cx="439.04" cy="148.60" r="2.3" fill="#ff7f0e"/><line x1="444.95" y1="139.01" x2="444.95" y2="148.81" stroke="#ff7f0e" stroke-width="1.2"/><line x1="442.95" y1="139.01" x2="446.95" y2="139.01" stroke="#ff7f0e" stroke-width="1.2"/><line x1="442.95" y1="148.81" x2="446.95" y2="148.81" stroke="#ff7f0e" stroke-width="1.2"/><circle cx="444.95" cy="143.91" r="2.3" fill="#ff7f0e"/><line x1="450.86" y1="134.00" x2="450.86" y2="143.80" stroke="#ff7f0e" stroke-width="1.2"/><line x1="448.86" y1="134.00" x2="452.86" y2="134.00" stroke="#ff7f0e" stroke-width="1.2"/><line x1="448.86" y1="143.80" x2="452.86" y2="143.80" stroke="#ff7f0e" stroke-width="1.2"/><circle cx="450.86" cy="138.90" r="2.3" fill="#ff7f0e"/><line x1="456.90" y1="128.81" x2="456.90" y2="138.61" stroke="#ff7f0e" stroke-width="1.2"/><line x1="454.90" y1="128.81" x2="458.90" y2="128.81" stroke="#ff7f0e" stroke-width="1.2"/><line x1="454.90" y1="138.61" x2="458.90" y2="138.61" stroke="#ff7f0e" stroke-width="1.2"/><circle cx="456.90" cy="133.71" r="2.3" fill="#ff7f0e"/><line x1="463.20" y1="124.90" x2="463.20" y2="134.70" stroke="#ff7f0e" stroke-width="1.2"/><line x1="461.20" y1="124.90" x2="465.20" y2="124.90" stroke="#ff7f0e" stroke-width="1.2"/><line x1="461.20" y1="134.70" x2="465.20" y2="134.70" stroke="#ff7f0e" stroke-width="1.2"/><circle cx="463.20" cy="129.80" r="2.3" fill="#ff7f0e"/><line x1="470.43" y1="121.90" x2="470.43" y2="131.70" stroke="#ff7f0e" stroke-width="1.2"/><line x1="468.43" y1="121.90" x2="472.43" y2="121.90" stroke="#ff7f0e" stroke-width="1.2"/><line x1="468.43" y1="131.70" x2="472.43" y2="131.70" stroke="#ff7f0e" stroke-width="1.2"/><circle cx="470.43" cy="126.80" r="2.3" fill="#ff7f0e"/><line x1="478.44" y1="120.10" x2="478.44" y2="129.90" stroke="#ff7f0e" stroke-width="1.2"/><line x1="476.44" y1="120.10" x2="480.44" y2="120.10" stroke="#ff7f0e" stroke-width="1.2"/><line x1="476.44" y1="129.90" x2="480.44" y2="129.90" stroke="#ff7f0e" stroke-width="1.2"/><circle cx="478.44" cy="125.00" r="2.3" fill="#ff7f0e"/><line x1="487.37" y1="118.60" x2="487.37" y2="128.40" stroke="#ff7f0e" stroke-width="1.2"/><line x1="485.37" y1="118.60" x2="489.37" y2="118.60" stroke="#ff7f0e" stroke-width="1.2"/><line x1="485.37" y1="128.40" x2="489.37" y2="128.40" stroke="#ff7f0e" stroke-width="1.2"/><circle cx="487.37" cy="123.50" r="2.3" fill="#ff7f0e"/><line x1="497.35" y1="112.90" x2="497.35" y2="122.70" stroke="#ff7f0e" stroke-width="1.2"/><line x1="495.35" y1="112.90" x2="499.35" y2="112.90" stroke="#ff7f0e" stroke-width="1.2"/><line x1="495.35" y1="122.70" x2="499.35" y2="122.70" stroke="#ff7f0e" stroke-width="1.2"/><circle cx="497.35" cy="117.80" r="2.3" fill="#ff7f0e"/><line x1="508.38" y1="108.00" x2="508.38" y2="117.80" stroke="#ff7f0e" stroke-width="1.2"/><line x1="506.38" y1="108.00" x2="510.38" y2="108.00" stroke="#ff7f0e" stroke-width="1.2"/><line x1="506.38" y1="117.80" x2="510.38" y2="117.80" stroke="#ff7f0e" stroke-width="1.2"/><circle cx="508.38" cy="112.90" r="2.3" fill="#ff7f0e"/><line x1="520.59" y1="104.70" x2="520.59" y2="114.50" stroke="#ff7f0e" stroke-width="1.2"/><line x1="518.59" y1="104.70" x2="522.59" y2="104.70" stroke="#ff7f0e" stroke-width="1.2"/><line x1="518.59" y1="114.50" x2="522.59" y2="114.50" stroke="#ff7f0e" stroke-width="1.2"/><circle cx="520.59" cy="109.60" r="2.3" fill="#ff7f0e"/><line x1="534.25" y1="99.80" x2="534.25" y2="109.60" stroke="#ff7f0e" stroke-width="1.2"/><line x1="532.25" y1="99.80" x2="536.25" y2="99.80" stroke="#ff7f0e" stroke-width="1.2"/><line x1="532.25" y1="109.60" x2="536.25" y2="109.60" stroke="#ff7f0e" stroke-width="1.2"/><circle cx="534.25" cy="104.70" r="2.3" fill="#ff7f0e"/><line x1="550.41" y1="97.30" x2="550.41" y2="107.10" stroke="#ff7f0e" stroke-width="1.2"/><line x1="548.41" y1="97.30" x2="552.41" y2="97.30" stroke="#ff7f0e" stroke-width="1.2"/><line x1="548.41" y1="107.10" x2="552.41" y2="107.10" stroke="#ff7f0e" stroke-width="1.2"/><circle cx="550.41" cy="102.20" r="2.3" fill="#ff7f0e"/><line x1="570.89" y1="94.50" x2="570.89" y2="104.30" stroke="#ff7f0e" stroke-width="1.2"/><line x1="568.89" y1="94.50" x2="572.89" y2="94.50" stroke="#ff7f0e" stroke-width="1.2"/><line x1="568.89" y1="104.30" x2="572.89" y2="104.30" stroke="#ff7f0e" stroke-width="1.2"/><circle cx="570.89" cy="99.40" r="2.3" fill="#ff7f0e"/><line x1="599.79" y1="88.50" x2="599.79" y2="98.30" stroke="#ff7f0e" stroke-width="1.2"/><line x1="597.79" y1="88.50" x2="601.79" y2="88.50" stroke="#ff7f0e" stroke-width="1.2"/><line x1="597.79" y1="98.30" x2="601.79" y2="98.30" stroke="#ff7f0e" stroke-width="1.2"/><circle cx="599.79" cy="93.40" r="2.3" fill="#ff7f0e"/><line x1="666.24" y1="81.10" x2="666.24" y2="90.90" stroke="#ff7f0e" stroke-width="1.2"/><line x1="664.24" y1="81.10" x2="668.24" y2="81.10" stroke="#ff7f0e" stroke-width="1.2"/><line x1="664.24" y1="90.90" x2="668.24" y2="90.90" stroke="#ff7f0e" stroke-width="1.2"/><circle cx="666.24" cy="86.00" r="2.3" fill="#ff7f0e"/>
<rect x="395.4" y="21.1" width="288.4" height="186.6" fill="none" stroke="#1a1a1a" stroke-width="1"/>
<g stroke="#1a1a1a" stroke-width="0.9"><line x1="395.83" y1="207.7" x2="395.83" y2="201.7"/><line x1="461.50" y1="207.7" x2="461.50" y2="201.7"/><line x1="527.16" y1="207.7" x2="527.16" y2="201.7"/><line x1="592.82" y1="207.7" x2="592.82" y2="201.7"/><line x1="658.49" y1="207.7" x2="658.49" y2="201.7"/><line x1="395.4" y1="192.50" x2="401.4" y2="192.50"/><line x1="683.8" y1="192.50" x2="677.8" y2="192.50"/><line x1="395.4" y1="161.40" x2="401.4" y2="161.40"/><line x1="683.8" y1="161.40" x2="677.8" y2="161.40"/><line x1="395.4" y1="130.30" x2="401.4" y2="130.30"/><line x1="683.8" y1="130.30" x2="677.8" y2="130.30"/><line x1="395.4" y1="99.20" x2="401.4" y2="99.20"/><line x1="683.8" y1="99.20" x2="677.8" y2="99.20"/><line x1="395.4" y1="68.10" x2="401.4" y2="68.10"/><line x1="683.8" y1="68.10" x2="677.8" y2="68.10"/><line x1="395.4" y1="37.00" x2="401.4" y2="37.00"/><line x1="683.8" y1="37.00" x2="677.8" y2="37.00"/></g>
<g font-family="'Liberation Serif', serif" font-size="14.6" fill="#111"><text x="395.83" y="222.2" text-anchor="middle">0</text><text x="461.50" y="222.2" text-anchor="middle">50</text><text x="527.16" y="222.2" text-anchor="middle">100</text><text x="592.82" y="222.2" text-anchor="middle">150</text><text x="658.49" y="222.2" text-anchor="middle">200</text><text x="392.2" y="197.40" text-anchor="end">2</text><text x="392.2" y="166.30" text-anchor="end">4</text><text x="392.2" y="135.20" text-anchor="end">6</text><text x="392.2" y="104.10" text-anchor="end">8</text><text x="392.2" y="73.00" text-anchor="end">10</text><text x="392.2" y="41.90" text-anchor="end">12</text></g>
<g font-family="'Liberation Serif', serif" fill="#111"><text x="510.2" y="238.3" font-style="italic" font-size="15.6">E</text><text x="520.6" y="240.6" font-style="italic" font-size="11.5" textLength="7" lengthAdjust="spacingAndGlyphs">ν</text><text x="532.2" y="238.6" font-size="16.5" textLength="37.8" lengthAdjust="spacingAndGlyphs">[GeV]</text></g>
<g transform="translate(369.3,157) rotate(-90)" font-family="'Liberation Serif', serif" fill="#111"><path transform="translate(5.2,0)" d="M0,-9.0 C-0.2,-10.2 1.8,-10.8 4.1,-10.7 C6.3,-10.6 8.8,-10.8 9.8,-9.6 C10.6,-8.6 9.9,-6.6 7.9,-6.0 C6.9,-5.7 5.9,-5.9 5.5,-6.2 M5.8,-6.0 C6.8,-4.5 7.3,-2.6 8.5,-1.6 C9.3,-1.0 10.3,-1.0 11.1,-1.7 M4.1,-10.6 C3.5,-7 2.8,-3.5 1.7,-1.2" fill="none" stroke="#111" stroke-width="1.45" stroke-linecap="round"/><text x="17.4" y="1.8" font-style="italic" font-size="11" textLength="12.6" lengthAdjust="spacingAndGlyphs">μμ</text><text x="36.2" y="0" font-size="16.5">(</text><text x="42.8" y="3" font-size="20">×</text><text x="53.6" y="0" font-size="16.5" textLength="16" lengthAdjust="spacingAndGlyphs">10</text><text x="68.4" y="-6.8" font-size="11.5">3</text><text x="74.6" y="0" font-size="16.5">)</text></g>
<rect x="404.8" y="31.3" width="25.2" height="9.1" fill="#1f77b4" fill-opacity="0.2"/>
<line x1="404.8" y1="36" x2="430" y2="36" stroke="#1f77b4" stroke-width="1.8"/>
<rect x="404.8" y="48.2" width="25.2" height="8.1" fill="#2ca02c" fill-opacity="0.2"/>
<line x1="406.2" y1="52.5" x2="426.5" y2="52.5" stroke="#2ca02c" stroke-width="1.8" stroke-dasharray="5 2.65"/>
<line x1="417.8" y1="62.4" x2="417.8" y2="74.6" stroke="#ff7f0e" stroke-width="1.2"/>
<line x1="415.8" y1="62.4" x2="419.8" y2="62.4" stroke="#ff7f0e" stroke-width="1.2"/>
<line x1="415.8" y1="74.6" x2="419.8" y2="74.6" stroke="#ff7f0e" stroke-width="1.2"/>
<circle cx="417.8" cy="68.5" r="2.3" fill="#ff7f0e"/>
<g font-family="'Liberation Sans', sans-serif" font-size="12" fill="#111"><text x="438.8" y="40.6" textLength="55.4" lengthAdjust="spacingAndGlyphs">NNPDF4.0</text><text x="438.8" y="56.7" textLength="104.8" lengthAdjust="spacingAndGlyphs">NNPDF4.0+NOMAD</text><text x="438.8" y="73.6" textLength="67.6" lengthAdjust="spacingAndGlyphs">NOMAD data</text></g>
<rect x="552.3" y="125.4" width="118.5" height="60.5" fill="#ffffff"/>
<path d="M560.91,139.17 L565.32,147.83 L567.85,149.45 L570.00,150.26 L572.42,152.25 L574.84,154.26 L577.32,155.42 L579.90,156.61 L582.86,157.23 L586.14,156.21 L589.80,155.17 L593.89,157.35 L598.41,158.86 L603.41,159.84 L609.01,160.78 L615.62,161.01 L624.02,161.19 L635.85,161.30 L663.07,161.55 L663.07,173.94 L635.85,173.94 L624.02,173.94 L615.62,173.75 L609.01,173.43 L603.41,172.75 L598.41,172.06 L593.89,170.90 L589.80,169.16 L586.14,170.30 L582.86,171.44 L579.90,171.80 L577.32,171.87 L574.84,170.63 L572.42,169.15 L570.00,167.69 L567.85,167.35 L565.32,166.45 L560.91,158.98 Z" fill="#1f77b4" fill-opacity="0.2"/>
<path d="M560.91,147.68 L565.32,156.20 L567.85,157.71 L570.00,158.27 L572.42,159.84 L574.84,161.44 L577.32,162.81 L579.90,162.87 L582.86,162.65 L586.14,161.60 L589.80,160.46 L593.89,162.20 L598.41,163.36 L603.41,164.05 L609.01,164.73 L615.62,165.05 L624.02,165.24 L635.85,165.24 L663.07,165.24 L663.07,173.64 L635.85,173.64 L624.02,173.64 L615.62,173.45 L609.01,173.13 L603.41,172.45 L598.41,171.76 L593.89,170.60 L589.80,168.85 L586.14,170.00 L582.86,171.14 L579.90,171.50 L577.32,171.56 L574.84,170.33 L572.42,168.85 L570.00,167.39 L567.85,167.05 L565.32,166.15 L560.91,158.68 Z" fill="#2ca02c" fill-opacity="0.2"/>
<line x1="552.3" y1="169.60" x2="663.13" y2="169.60" stroke="#777" stroke-width="0.7" stroke-dasharray="2 1.5"/>
<path d="M560.91,150.92 L565.32,158.92 L567.85,160.13 L570.00,160.57 L572.42,162.09 L574.84,163.63 L577.32,164.93 L579.90,164.93 L582.86,164.64 L586.14,163.54 L589.80,162.40 L593.89,164.15 L598.41,165.30 L603.41,165.99 L609.01,166.67 L615.62,166.99 L624.02,167.19 L635.85,167.19 L663.07,167.19" fill="none" stroke="#1f77b4" stroke-width="1.2"/>
<path d="M560.91,153.18 L565.32,161.17 L567.85,162.38 L570.00,162.83 L572.42,164.34 L574.84,165.88 L577.32,167.19 L579.90,167.19 L582.86,166.90 L586.14,165.80 L589.80,164.66 L593.89,166.40 L598.41,167.56 L603.41,168.25 L609.01,168.93 L615.62,169.25 L624.02,169.44 L635.85,169.44 L663.07,169.44" fill="none" stroke="#2ca02c" stroke-width="1" stroke-dasharray="2.5 1.5"/>
<line x1="560.91" y1="160.73" x2="560.91" y2="178.47" stroke="#ff7f0e" stroke-width="0.8"/><line x1="559.61" y1="160.73" x2="562.21" y2="160.73" stroke="#ff7f0e" stroke-width="0.8"/><line x1="559.61" y1="178.47" x2="562.21" y2="178.47" stroke="#ff7f0e" stroke-width="0.8"/><circle cx="560.91" cy="169.60" r="1.3" fill="#ff7f0e"/><line x1="565.32" y1="163.58" x2="565.32" y2="175.62" stroke="#ff7f0e" stroke-width="0.8"/><line x1="564.02" y1="163.58" x2="566.62" y2="163.58" stroke="#ff7f0e" stroke-width="0.8"/><line x1="564.02" y1="175.62" x2="566.62" y2="175.62" stroke="#ff7f0e" stroke-width="0.8"/><circle cx="565.32" cy="169.60" r="1.3" fill="#ff7f0e"/><line x1="567.85" y1="164.08" x2="567.85" y2="175.12" stroke="#ff7f0e" stroke-width="0.8"/><line x1="566.55" y1="164.08" x2="569.15" y2="164.08" stroke="#ff7f0e" stroke-width="0.8"/><line x1="566.55" y1="175.12" x2="569.15" y2="175.12" stroke="#ff7f0e" stroke-width="0.8"/><circle cx="567.85" cy="169.60" r="1.3" fill="#ff7f0e"/><line x1="570.00" y1="164.44" x2="570.00" y2="174.76" stroke="#ff7f0e" stroke-width="0.8"/><line x1="568.70" y1="164.44" x2="571.30" y2="164.44" stroke="#ff7f0e" stroke-width="0.8"/><line x1="568.70" y1="174.76" x2="571.30" y2="174.76" stroke="#ff7f0e" stroke-width="0.8"/><circle cx="570.00" cy="169.60" r="1.3" fill="#ff7f0e"/><line x1="572.42" y1="164.75" x2="572.42" y2="174.45" stroke="#ff7f0e" stroke-width="0.8"/><line x1="571.12" y1="164.75" x2="573.72" y2="164.75" stroke="#ff7f0e" stroke-width="0.8"/><line x1="571.12" y1="174.45" x2="573.72" y2="174.45" stroke="#ff7f0e" stroke-width="0.8"/><circle cx="572.42" cy="169.60" r="1.3" fill="#ff7f0e"/><line x1="574.84" y1="165.03" x2="574.84" y2="174.17" stroke="#ff7f0e" stroke-width="0.8"/><line x1="573.54" y1="165.03" x2="576.14" y2="165.03" stroke="#ff7f0e" stroke-width="0.8"/><line x1="573.54" y1="174.17" x2="576.14" y2="174.17" stroke="#ff7f0e" stroke-width="0.8"/><circle cx="574.84" cy="169.60" r="1.3" fill="#ff7f0e"/><line x1="577.32" y1="165.30" x2="577.32" y2="173.90" stroke="#ff7f0e" stroke-width="0.8"/><line x1="576.02" y1="165.30" x2="578.62" y2="165.30" stroke="#ff7f0e" stroke-width="0.8"/><line x1="576.02" y1="173.90" x2="578.62" y2="173.90" stroke="#ff7f0e" stroke-width="0.8"/><circle cx="577.32" cy="169.60" r="1.3" fill="#ff7f0e"/><line x1="579.90" y1="165.48" x2="579.90" y2="173.72" stroke="#ff7f0e" stroke-width="0.8"/><line x1="578.60" y1="165.48" x2="581.20" y2="165.48" stroke="#ff7f0e" stroke-width="0.8"/><line x1="578.60" y1="173.72" x2="581.20" y2="173.72" stroke="#ff7f0e" stroke-width="0.8"/><circle cx="579.90" cy="169.60" r="1.3" fill="#ff7f0e"/><line x1="582.86" y1="165.60" x2="582.86" y2="173.60" stroke="#ff7f0e" stroke-width="0.8"/><line x1="581.56" y1="165.60" x2="584.16" y2="165.60" stroke="#ff7f0e" stroke-width="0.8"/><line x1="581.56" y1="173.60" x2="584.16" y2="173.60" stroke="#ff7f0e" stroke-width="0.8"/><circle cx="582.86" cy="169.60" r="1.3" fill="#ff7f0e"/><line x1="586.14" y1="165.68" x2="586.14" y2="173.52" stroke="#ff7f0e" stroke-width="0.8"/><line x1="584.84" y1="165.68" x2="587.44" y2="165.68" stroke="#ff7f0e" stroke-width="0.8"/><line x1="584.84" y1="173.52" x2="587.44" y2="173.52" stroke="#ff7f0e" stroke-width="0.8"/><circle cx="586.14" cy="169.60" r="1.3" fill="#ff7f0e"/><line x1="589.80" y1="165.74" x2="589.80" y2="173.46" stroke="#ff7f0e" stroke-width="0.8"/><line x1="588.50" y1="165.74" x2="591.10" y2="165.74" stroke="#ff7f0e" stroke-width="0.8"/><line x1="588.50" y1="173.46" x2="591.10" y2="173.46" stroke="#ff7f0e" stroke-width="0.8"/><circle cx="589.80" cy="169.60" r="1.3" fill="#ff7f0e"/><line x1="593.89" y1="165.94" x2="593.89" y2="173.26" stroke="#ff7f0e" stroke-width="0.8"/><line x1="592.59" y1="165.94" x2="595.19" y2="165.94" stroke="#ff7f0e" stroke-width="0.8"/><line x1="592.59" y1="173.26" x2="595.19" y2="173.26" stroke="#ff7f0e" stroke-width="0.8"/><circle cx="593.89" cy="169.60" r="1.3" fill="#ff7f0e"/><line x1="598.41" y1="166.11" x2="598.41" y2="173.09" stroke="#ff7f0e" stroke-width="0.8"/><line x1="597.11" y1="166.11" x2="599.71" y2="166.11" stroke="#ff7f0e" stroke-width="0.8"/><line x1="597.11" y1="173.09" x2="599.71" y2="173.09" stroke="#ff7f0e" stroke-width="0.8"/><circle cx="598.41" cy="169.60" r="1.3" fill="#ff7f0e"/><line x1="603.41" y1="166.21" x2="603.41" y2="172.99" stroke="#ff7f0e" stroke-width="0.8"/><line x1="602.11" y1="166.21" x2="604.71" y2="166.21" stroke="#ff7f0e" stroke-width="0.8"/><line x1="602.11" y1="172.99" x2="604.71" y2="172.99" stroke="#ff7f0e" stroke-width="0.8"/><circle cx="603.41" cy="169.60" r="1.3" fill="#ff7f0e"/><line x1="609.01" y1="166.35" x2="609.01" y2="172.85" stroke="#ff7f0e" stroke-width="0.8"/><line x1="607.71" y1="166.35" x2="610.31" y2="166.35" stroke="#ff7f0e" stroke-width="0.8"/><line x1="607.71" y1="172.85" x2="610.31" y2="172.85" stroke="#ff7f0e" stroke-width="0.8"/><circle cx="609.01" cy="169.60" r="1.3" fill="#ff7f0e"/><line x1="615.62" y1="166.41" x2="615.62" y2="172.79" stroke="#ff7f0e" stroke-width="0.8"/><line x1="614.32" y1="166.41" x2="616.92" y2="166.41" stroke="#ff7f0e" stroke-width="0.8"/><line x1="614.32" y1="172.79" x2="616.92" y2="172.79" stroke="#ff7f0e" stroke-width="0.8"/><circle cx="615.62" cy="169.60" r="1.3" fill="#ff7f0e"/><line x1="624.02" y1="166.49" x2="624.02" y2="172.71" stroke="#ff7f0e" stroke-width="0.8"/><line x1="622.72" y1="166.49" x2="625.32" y2="166.49" stroke="#ff7f0e" stroke-width="0.8"/><line x1="622.72" y1="172.71" x2="625.32" y2="172.71" stroke="#ff7f0e" stroke-width="0.8"/><circle cx="624.02" cy="169.60" r="1.3" fill="#ff7f0e"/><line x1="635.85" y1="166.63" x2="635.85" y2="172.57" stroke="#ff7f0e" stroke-width="0.8"/><line x1="634.55" y1="166.63" x2="637.15" y2="166.63" stroke="#ff7f0e" stroke-width="0.8"/><line x1="634.55" y1="172.57" x2="637.15" y2="172.57" stroke="#ff7f0e" stroke-width="0.8"/><circle cx="635.85" cy="169.60" r="1.3" fill="#ff7f0e"/><line x1="663.07" y1="166.79" x2="663.07" y2="172.41" stroke="#ff7f0e" stroke-width="0.8"/><line x1="661.77" y1="166.79" x2="664.37" y2="166.79" stroke="#ff7f0e" stroke-width="0.8"/><line x1="661.77" y1="172.41" x2="664.37" y2="172.41" stroke="#ff7f0e" stroke-width="0.8"/><circle cx="663.07" cy="169.60" r="1.3" fill="#ff7f0e"/>
<rect x="552.3" y="125.4" width="118.5" height="60.5" fill="none" stroke="#1a1a1a" stroke-width="0.8"/>
<g stroke="#1a1a1a" stroke-width="0.7"><line x1="552.30" y1="185.9" x2="552.30" y2="183.70000000000002"/><line x1="579.20" y1="185.9" x2="579.20" y2="183.70000000000002"/><line x1="606.10" y1="185.9" x2="606.10" y2="183.70000000000002"/><line x1="633.00" y1="185.9" x2="633.00" y2="183.70000000000002"/><line x1="659.90" y1="185.9" x2="659.90" y2="183.70000000000002"/><line x1="552.3" y1="185.70" x2="554.5" y2="185.70"/><line x1="670.8" y1="185.70" x2="668.5999999999999" y2="185.70"/><line x1="552.3" y1="169.60" x2="554.5" y2="169.60"/><line x1="670.8" y1="169.60" x2="668.5999999999999" y2="169.60"/><line x1="552.3" y1="153.50" x2="554.5" y2="153.50"/><line x1="670.8" y1="153.50" x2="668.5999999999999" y2="153.50"/><line x1="552.3" y1="137.40" x2="554.5" y2="137.40"/><line x1="670.8" y1="137.40" x2="668.5999999999999" y2="137.40"/></g>
<g font-family="'Liberation Serif', serif" font-size="7.6" fill="#111"><text x="552.30" y="194.7" text-anchor="middle">0</text><text x="579.20" y="194.7" text-anchor="middle">50</text><text x="606.10" y="194.7" text-anchor="middle">100</text><text x="633.00" y="194.7" text-anchor="middle">150</text><text x="659.90" y="194.7" text-anchor="middle">200</text><text x="549.6" y="188.70" text-anchor="end">0.8</text><text x="549.6" y="172.60" text-anchor="end">1.0</text><text x="549.6" y="156.50" text-anchor="end">1.2</text><text x="549.6" y="140.40" text-anchor="end">1.4</text></g>
</svg></body></html>
